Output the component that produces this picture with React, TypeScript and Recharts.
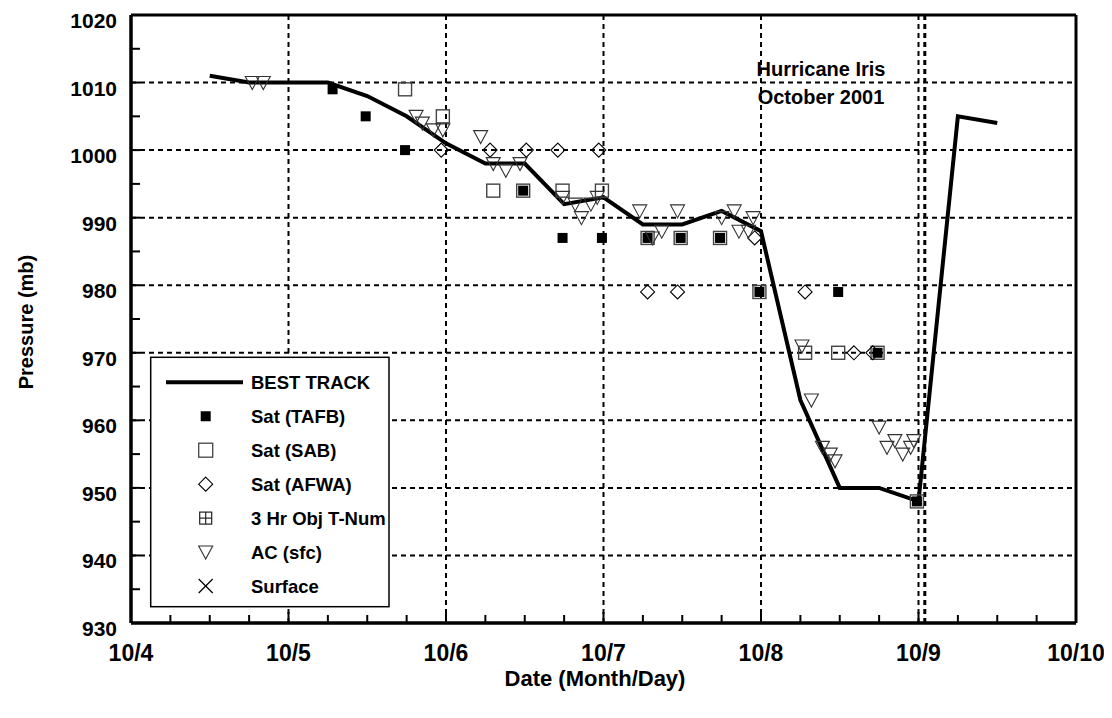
import React from 'react';
import { ComposedChart, Line, Scatter, XAxis, YAxis, CartesianGrid, ReferenceLine } from 'recharts';

// ---------- data ----------
const dayLabels = ['10/4', '10/5', '10/6', '10/7', '10/8', '10/9', '10/10'];
const pressureLabels = [930, 940, 950, 960, 970, 980, 990, 1000, 1010, 1020];

// days since 10/4 00Z
const bestTrackDays = [0.5, 0.75, 1.0, 1.25, 1.5, 1.75, 2.0, 2.25, 2.5, 2.75, 3.0, 3.25, 3.5, 3.75, 4.0, 4.25, 4.5, 4.75, 5.0, 5.25, 5.5];
const bestTrackPressure = [1011, 1010, 1010, 1010, 1008, 1005, 1001, 998, 998, 992, 993, 989, 989, 991, 988, 963, 950, 950, 948, 1005, 1004];

const tafbDays = [1.28, 1.49, 1.74, 2.49, 2.74, 2.99, 3.28, 3.49, 3.74, 3.99, 4.49, 4.74, 4.99];
const tafbPressure = [1009, 1005, 1000, 994, 987, 987, 987, 987, 987, 979, 979, 970, 948];

const sabDays = [1.74, 1.98, 2.3, 2.49, 2.74, 2.99, 3.28, 3.49, 3.74, 3.99, 4.28, 4.49, 4.74, 4.99];
const sabPressure = [1009, 1005, 994, 994, 994, 994, 987, 987, 987, 979, 970, 970, 970, 948];

const afwaDays = [1.97, 2.28, 2.51, 2.71, 2.97, 3.28, 3.47, 3.96, 4.28, 4.59, 4.71];
const afwaPressure = [1000, 1000, 1000, 1000, 1000, 979, 979, 987, 979, 970, 970];

const acDays = [0.77, 0.84, 1.81, 1.85, 1.92, 1.98, 2.22, 2.3, 2.38, 2.47, 2.74, 2.82, 2.86, 2.92, 2.96, 3.23, 3.31, 3.37, 3.47, 3.75, 3.83, 3.86, 3.92, 3.95, 4.26, 4.32, 4.39, 4.44, 4.47, 4.75, 4.8, 4.85, 4.9, 4.95, 4.97];
const acPressure = [1010, 1010, 1005, 1004, 1003, 1003, 1002, 998, 997, 998, 993, 992, 990, 992, 993, 991, 987, 988, 991, 990, 991, 988, 988, 990, 971, 963, 956, 955, 954, 959, 956, 957, 955, 956, 957];

const landfallDay = 5.04;

const legendLabels = ['BEST TRACK', 'Sat (TAFB)', 'Sat (SAB)', 'Sat (AFWA)', '3 Hr Obj T-Num', 'AC (sfc)', 'Surface'];
const titleLines = ['Hurricane Iris', 'October 2001'];

// ---------- derived ----------
const zip = (d: number[], p: number[]) => d.map((v, i) => ({ d: v, p: p[i] }));
const bestTrack = zip(bestTrackDays, bestTrackPressure);
const tafb = zip(tafbDays, tafbPressure);
const sab = zip(sabDays, sabPressure);
const afwa = zip(afwaDays, afwaPressure);
const ac = zip(acDays, acPressure);

const dayMajor = dayLabels.map((_, i) => i);
const xMin = dayMajor[0];
const xMax = dayMajor[dayMajor.length - 1];
const yMin = pressureLabels[0];
const yMax = pressureLabels[pressureLabels.length - 1];
const xTicks: number[] = [];
for (let i = 0; i < dayMajor.length - 1; i++) for (let q = 0; q < 4; q++) xTicks.push(i + q / 4);
xTicks.push(xMax);
const yTicks: number[] = [];
for (let i = 0; i < pressureLabels.length - 1; i++) { yTicks.push(pressureLabels[i]); yTicks.push(pressureLabels[i] + 5); }
yTicks.push(yMax);

const FONT = '"Liberation Sans", Arial, Helvetica, sans-serif';
const W = 1104;
const H = 710;
const near = (v: number, step: number) => Math.abs(v / step - Math.round(v / step)) < 1e-6;

// ---------- ticks ----------
const BottomTick = (props: any) => {
  const { x, y, payload } = props;
  const v = payload.value;
  const major = near(v, 1);
  return (
    <g>
      <line x1={x} x2={x} y1={y} y2={y - (major ? 11 : 8)} stroke="#000" strokeWidth={2} />
      {major && (
        <text x={x} y={y + 38} textAnchor="middle" fontFamily={FONT} fontWeight="bold" fontSize={23} fill="#000">
          {dayLabels[Math.round(v)]}
        </text>
      )}
    </g>
  );
};
const TopTick = (props: any) => {
  const { x, y } = props;
  return <line x1={x} x2={x} y1={y} y2={y + 8} stroke="#000" strokeWidth={2} />;
};
const LeftTick = (props: any) => {
  const { x, y, payload } = props;
  const v = payload.value;
  const major = near(v, 10);
  return (
    <g>
      <line x1={x} x2={x + 9} y1={y} y2={y} stroke="#000" strokeWidth={2} />
      {major && (
        <text x={x - 14} y={y + 13} textAnchor="end" fontFamily={FONT} fontWeight="bold" fontSize={21} fill="#000">
          {v}
        </text>
      )}
    </g>
  );
};
const RightTick = (props: any) => {
  const { x, y } = props;
  return <line x1={x} x2={x - 9} y1={y} y2={y} stroke="#000" strokeWidth={2} />;
};

// ---------- markers ----------
const FilledSquare = (p: any) => <rect x={p.cx - 5} y={p.cy - 5} width={10} height={10} fill="#000" />;
const OpenSquare = (p: any) => (
  <rect x={p.cx - 6.5} y={p.cy - 6.5} width={13} height={13} fill="none" stroke="#444" strokeWidth={1.4} />
);
const Diamond = (p: any) => (
  <path d={`M${p.cx},${p.cy - 7}L${p.cx + 7},${p.cy}L${p.cx},${p.cy + 7}L${p.cx - 7},${p.cy}Z`} fill="none" stroke="#000" strokeWidth={1.1} />
);
const TriDown = (p: any) => (
  <path d={`M${p.cx - 7},${p.cy - 6}L${p.cx + 7},${p.cy - 6}L${p.cx},${p.cy + 7}Z`} fill="none" stroke="#333" strokeWidth={1.1} />
);

// ---------- legend symbols ----------
const LegendSymbol = ({ i, cx, cy }: { i: number; cx: number; cy: number }) => {
  switch (i) {
    case 0:
      return <line x1={158} x2={235} y1={cy} y2={cy} stroke="#000" strokeWidth={4} />;
    case 1:
      return <rect x={cx - 5} y={cy - 5} width={10} height={10} fill="#000" />;
    case 2:
      return <rect x={cx - 7} y={cy - 7} width={14} height={14} fill="none" stroke="#444" strokeWidth={1.3} />;
    case 3:
      return <path d={`M${cx},${cy - 7}L${cx + 7},${cy}L${cx},${cy + 7}L${cx - 7},${cy}Z`} fill="none" stroke="#000" strokeWidth={1.1} />;
    case 4:
      return (
        <g stroke="#222" strokeWidth={1.2} fill="none">
          <rect x={cx - 6} y={cy - 6} width={12} height={12} />
          <line x1={cx} x2={cx} y1={cy - 6} y2={cy + 6} />
          <line x1={cx - 6} x2={cx + 6} y1={cy} y2={cy} />
        </g>
      );
    case 5:
      return <path d={`M${cx - 7},${cy - 6}L${cx + 7},${cy - 6}L${cx},${cy + 7}Z`} fill="none" stroke="#333" strokeWidth={1.1} />;
    default:
      return (
        <g stroke="#000" strokeWidth={1.2}>
          <line x1={cx - 7} x2={cx + 7} y1={cy - 7} y2={cy + 7} />
          <line x1={cx - 7} x2={cx + 7} y1={cy + 7} y2={cy - 7} />
        </g>
      );
  }
};

const axisLineStyle = { stroke: '#000', strokeWidth: 3 };

export default function App() {
  const legendTop = 374.3;
  const legendStep = 33.95;
  return (
    <div style={{ position: 'relative', width: W, height: H, fontFamily: FONT }}>
      <ComposedChart width={W} height={H} margin={{ top: 7, right: 36, left: 0, bottom: 0 }}>
        <CartesianGrid
          stroke="#000"
          strokeWidth={2}
          strokeDasharray="5 4"
          horizontalValues={pressureLabels.slice(1, -1)}
          verticalValues={dayMajor.slice(1, -1)}
        />
        <XAxis
          dataKey="d"
          type="number"
          domain={[xMin, xMax]}
          ticks={xTicks}
          interval={0}
          height={95}
          tickSize={0}
          tickMargin={0}
          tickLine={false}
          tick={BottomTick}
          axisLine={axisLineStyle}
        />
        <XAxis
          xAxisId="top"
          orientation="top"
          type="number"
          domain={[xMin, xMax]}
          ticks={xTicks}
          interval={0}
          height={0}
          tickSize={0}
          tickMargin={0}
          tickLine={false}
          tick={TopTick}
          axisLine={axisLineStyle}
        />
        <YAxis
          dataKey="p"
          type="number"
          domain={[yMin, yMax]}
          ticks={yTicks}
          interval={0}
          width={123}
          tickSize={0}
          tickMargin={0}
          tickLine={false}
          tick={LeftTick}
          axisLine={axisLineStyle}
        />
        <YAxis
          yAxisId="right"
          orientation="right"
          type="number"
          domain={[yMin, yMax]}
          ticks={yTicks}
          interval={0}
          width={0}
          tickSize={0}
          tickMargin={0}
          tickLine={false}
          tick={RightTick}
          axisLine={axisLineStyle}
        />
        <ReferenceLine x={landfallDay} stroke="#000" strokeWidth={3} strokeDasharray="5 4" />
        <ReferenceLine x={xMin} stroke="#000" strokeWidth={3} />
        <ReferenceLine x={xMax} stroke="#000" strokeWidth={3} />
        <ReferenceLine y={yMin} stroke="#000" strokeWidth={3} />
        <ReferenceLine y={yMax} stroke="#000" strokeWidth={3} />
        <Line
          data={bestTrack}
          dataKey="p"
          type="linear"
          stroke="#000"
          strokeWidth={4}
          dot={false}
          activeDot={false}
          isAnimationActive={false}
        />
        <Scatter data={sab} dataKey="p" shape={OpenSquare} isAnimationActive={false} />
        <Scatter data={afwa} dataKey="p" shape={Diamond} isAnimationActive={false} />
        <Scatter data={tafb} dataKey="p" shape={FilledSquare} isAnimationActive={false} />
        <Scatter data={ac} dataKey="p" shape={TriDown} isAnimationActive={false} />
      </ComposedChart>
      <svg width={W} height={H} style={{ position: 'absolute', left: 0, top: 0, pointerEvents: 'none' }}>
        <text transform="rotate(-90)" x={-314} y={25} textAnchor="middle" fontFamily={FONT} fontWeight="bold" fontSize={20} fill="#000">
          Pressure (mb)
        </text>
        <text x={587} y={678} textAnchor="middle" fontFamily={FONT} fontWeight="bold" fontSize={22} fill="#000">
          Date (Month/Day)
        </text>
        {titleLines.map((t, i) => (
          <text key={t} x={813} y={68 + i * 28} textAnchor="middle" fontFamily={FONT} fontWeight="bold" fontSize={20} fill="#000">
            {t}
          </text>
        ))}
        <rect x={142.7} y={349.3} width={238.3} height={249.4} fill="#fff" stroke="#000" strokeWidth={1.5} />
        {legendLabels.map((t, i) => {
          const cy = legendTop + i * legendStep;
          return (
            <g key={t}>
              <LegendSymbol i={i} cx={197.7} cy={cy} />
              <text x={243} y={cy + 6.6} fontFamily={FONT} fontWeight="bold" fontSize={18.5} fill="#000">
                {t}
              </text>
            </g>
          );
        })}
      </svg>
    </div>
  );
}
